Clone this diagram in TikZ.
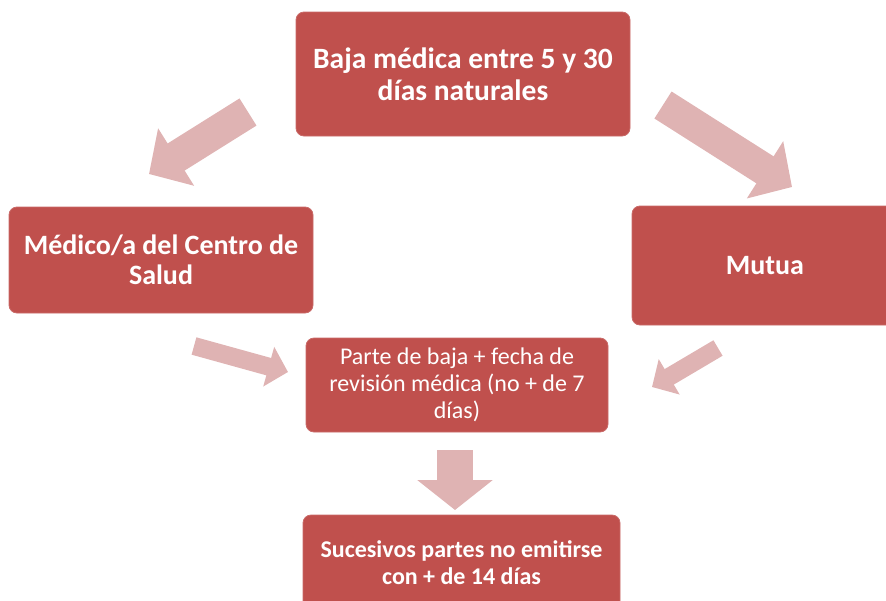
\documentclass[tikz,border=0pt]{standalone}
\usepackage{fontspec}
\setmainfont{Carlito}
\usetikzlibrary{arrows.meta}
\definecolor{boxred}{HTML}{C0504D}
\definecolor{arrowpink}{HTML}{DFB3B3}

\begin{document}
\begin{tikzpicture}[x=1pt, y=-1pt,
    box/.style={fill=boxred, draw=boxred!85!white, line width=0.8pt, rounded corners=8pt,
        text=white, align=center, inner sep=0pt},
    topfont/.style={font=\fontsize{29.5}{32}\selectfont\bfseries},
    bigfont/.style={font=\fontsize{28}{30}\selectfont\bfseries},
    smallfont/.style={font=\fontsize{24}{27}\selectfont},
    bigarrow/.style={draw=arrowpink, line width=32pt, -{Triangle[length=32pt,width=66pt]}},
    smallarrow/.style={draw=arrowpink, line width=18pt, -{Triangle[length=20pt,width=40pt]}}]
        \useasboundingbox (0,0) rectangle (886,600);
        \clip (0,0) rectangle (886,600);

        \node[box, topfont, minimum width=334pt, minimum height=124pt] (baja) at (463,74)
            {Baja médica entre 5 y 30\\días naturales}; %oben
        \node[box, bigfont, minimum width=304pt, minimum height=106pt] (medico) at (161,260)
            {Médico/a del Centro de\\Salud}; %links
        \node[box, bigfont, minimum width=266pt, minimum height=119pt] (mutua) at (765,265.5)
            {Mutua}; %rechts
        \node[box, smallfont, minimum width=302pt, minimum height=94pt] (parte) at (457,385)
            {Parte de baja + fecha de\\revisión médica (no + de 7\\días)}; %mitte
        \node[box, smallfont, minimum width=317pt, minimum height=96pt] (sucesivos) at (461.5,563)
            {\bfseries Sucesivos partes no emitirse\\\bfseries con + de 14 días}; %unten

        % pfeile oben
        \coordinate (tlTail) at (248,112);
        \coordinate (tlTip) at (149,174);
        \draw[bigarrow] (tlTail) -- (tlTip);

        \coordinate (trTail) at (663,105);
        \coordinate (trTip) at (792,187);
        \draw[bigarrow] (trTail) -- (trTip);

        % pfeile mitte
        \coordinate (mlTail) at (194,346);
        \coordinate (mlTip) at (288,372);
        \draw[smallarrow] (mlTail) -- (mlTip);

        \coordinate (mrTail) at (718,348);
        \coordinate (mrTip) at (652,387);
        \draw[smallarrow] (mrTail) -- (mrTip);

        % pfeil unten
        \coordinate (dTail) at (455,450);
        \coordinate (dTip) at (455,510);
        \draw[bigarrow, line width=36pt, -{Triangle[length=30pt,width=74pt]}] (dTail) -- (dTip);
    \end{tikzpicture}
\end{document}
